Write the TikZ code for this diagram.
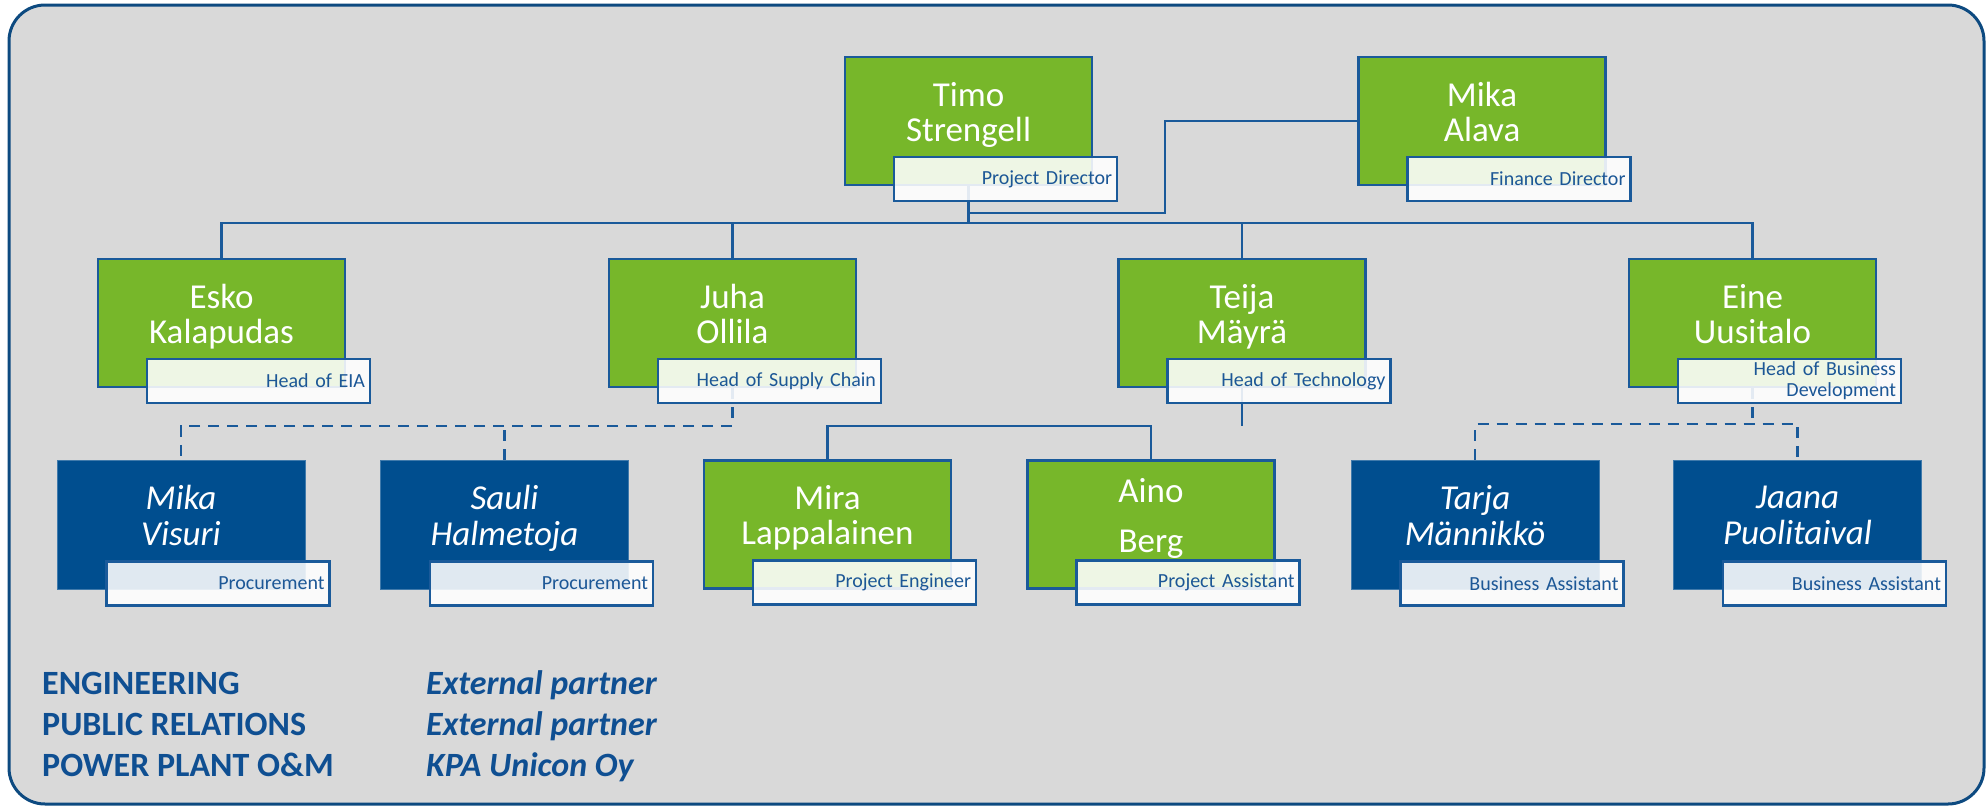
\documentclass[tikz,border=0pt]{standalone}
\usepackage{fontspec}
\setmainfont{Carlito}
\usetikzlibrary{calc}
\definecolor{bggray}{HTML}{D9D9D9}
\definecolor{frameblue}{HTML}{0D4A80}
\definecolor{lineblue}{HTML}{1A5A9A}
\definecolor{boxgreen}{HTML}{77B72A}
\definecolor{boxblue}{HTML}{004E8F}
\definecolor{textblue}{HTML}{1C5796}
\definecolor{legendblue}{HTML}{0F4F92}
\begin{document}
\begin{tikzpicture}[x=1pt,y=-1pt,
 gbox/.style={draw=lineblue, line width=2.6pt, fill=boxgreen, minimum width=247pt, minimum height=128pt, inner sep=0pt, text=white, font=\fontsize{35}{35}\selectfont, align=center, text depth=19pt},
 bbox/.style={draw=boxblue!75!white, line width=1pt, fill=boxblue, minimum width=248pt, minimum height=129pt, inner sep=0pt, text=white, font=\fontsize{35}{36}\selectfont\itshape, align=center, text depth=19pt},
 lbl/.style={draw=lineblue, line width=2.4pt, fill=white, fill opacity=0.88, text opacity=1, minimum width=223pt, minimum height=44pt, inner xsep=5pt, inner ysep=0pt, text width=213pt, align=right, text=textblue, font=\fontsize{20}{21}\selectfont},
 conn/.style={draw=lineblue, line width=2.4pt},
 dconn/.style={conn, dash pattern=on 11pt off 8pt},
 legend/.style={anchor=base west, inner sep=0pt, text=legendblue, font=\fontsize{34}{36}\selectfont\bfseries},
 legendit/.style={legend, font=\fontsize{34}{36}\selectfont\bfseries\itshape}
]
\useasboundingbox (0,0) rectangle (1987,806);
\draw[frameblue, line width=3pt, fill=bggray, rounded corners=36pt] (9,5) rectangle (1984,804);

% boxes
\node[gbox] (timo) at (968.5,121) {Timo\\Strengell};
\node[gbox] (mika) at (1482,121) {Mika\\Alava};
\node[gbox] (esko) at (221.5,323) {Esko\\Kalapudas};
\node[gbox] (juha) at (732.5,323) {Juha\\Ollila};
\node[gbox] (teija) at (1242,323) {Teija\\Mäyrä};
\node[gbox] (eine) at (1752.5,323) {Eine\\Uusitalo};
\node[bbox] (visuri) at (181,524.5) {Mika\\Visuri};
\node[bbox] (sauli) at (504.5,524.5) {Sauli\\Halmetoja};
\node[gbox] (mira) at (827.5,524.5) {Mira\\Lappalainen};
\node[gbox] (aino) at (1151,524.5) {Aino\\[15pt]Berg};
\node[bbox] (tarja) at (1475,524.5) {Tarja\\Männikkö};
\node[bbox] (jaana) at (1797.5,524.5) {Jaana\\Puolitaival};

% connectors
\coordinate (mj) at (968.5,213);
\coordinate (bus) at (968.5,223);
\draw[conn] (mika.west) -| ([xshift=196.5pt]mj) -- (mj);
\draw[conn] (timo.south) -- (bus);
\draw[conn] (esko.north) -- (esko.north |- bus) -- (eine.north |- bus) -- (eine.north);
\draw[conn] (juha.north) -- (juha.north |- bus);
\draw[conn] (teija.north) -- (teija.north |- bus);
\coordinate (tj) at (1242,426);
\draw[conn] (teija.south) -- (tj);
\draw[conn] (mira.north) -- (mira.north |- tj) -- (aino.north |- tj) -- (aino.north);
\coordinate (jj) at (732.5,426);
\draw[dconn] (juha.south) -- (juha.south |- jj) -- (visuri.north |- jj) -- (visuri.north);
\draw[dconn] (sauli.north) -- (sauli.north |- jj);
\coordinate (ej) at (1752.5,424);
\draw[dconn] (eine.south) -- (eine.south |- ej);
\draw[dconn] (tarja.north) -- (tarja.north |- ej) -- (jaana.north |- ej) -- (jaana.north);

% role labels
\node[lbl] (timo-l) at ($(timo.center)+(37,58)$) {Project Director};
\node[lbl] (mika-l) at ($(mika.center)+(37,58)$) {Finance Director};
\node[lbl] (esko-l) at ($(esko.center)+(37,58)$) {Head of EIA};
\node[lbl] (juha-l) at ($(juha.center)+(37,58)$) {Head of Supply Chain};
\node[lbl] (teija-l) at ($(teija.center)+(37,58)$) {Head of Technology};
\node[lbl] (eine-l) at ($(eine.center)+(37,58)$) {Head of Business\\Development};
\node[lbl] (visuri-l) at ($(visuri.center)+(37,59)$) {Procurement};
\node[lbl] (sauli-l) at ($(sauli.center)+(37,59)$) {Procurement};
\node[lbl] (mira-l) at ($(mira.center)+(37,58)$) {Project Engineer};
\node[lbl] (aino-l) at ($(aino.center)+(37,58)$) {Project Assistant};
\node[lbl] (tarja-l) at ($(tarja.center)+(37,59)$) {Business Assistant};
\node[lbl] (jaana-l) at ($(jaana.center)+(37,59)$) {Business Assistant};

% legend
\node[legend] (l1) at (42,694) {ENGINEERING};
\node[legend] (l2) at (42,735) {PUBLIC RELATIONS};
\node[legend] (l3) at (42,776) {POWER PLANT O\&M};
\node[legendit] (r1) at (426,694) {External partner};
\node[legendit] (r2) at (426,735) {External partner};
\node[legendit] (r3) at (426,776) {KPA Unicon Oy};
\end{tikzpicture}
\end{document}
